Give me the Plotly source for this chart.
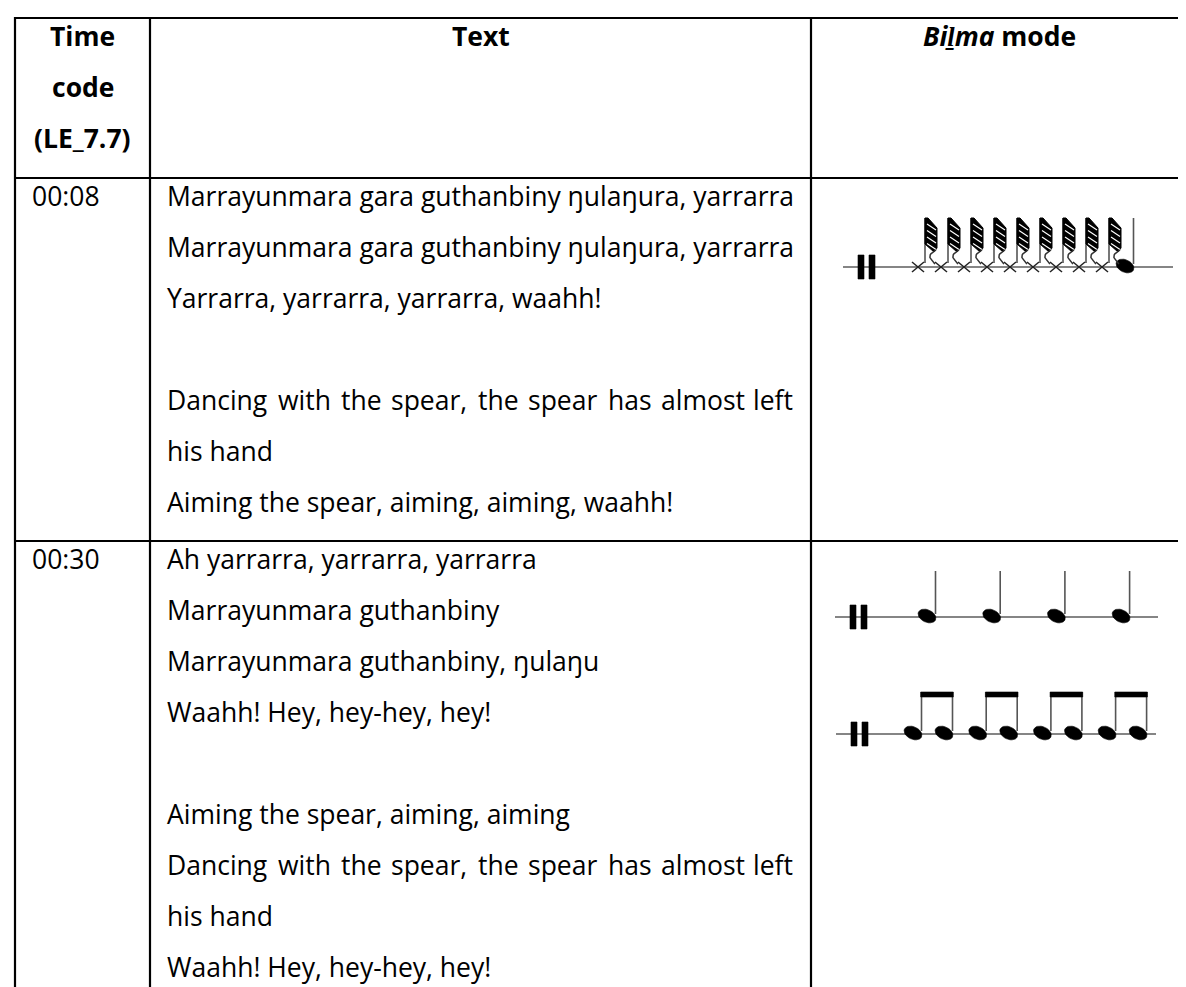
import math
import plotly.graph_objects as go

# ------------------------------------------------------------------ data
header_timecode = ["Time", "code", "(LE_7.7)"]
header_text = ["Text"]
header_mode = ["<i>Biḻma</i> mode"]

time_codes = ["00:08", "00:30"]

lyrics_row1 = [
    "Marrayunmara gara guthanbiny ŋulaŋura, yarrarra",
    "Marrayunmara gara guthanbiny ŋulaŋura, yarrarra",
    "Yarrarra, yarrarra, yarrarra, waahh!",
    "",
    "Dancing with the spear, the spear has almost left",
    "his hand",
    "Aiming the spear, aiming, aiming, waahh!",
]
lyrics_row2 = [
    "Ah yarrarra, yarrarra, yarrarra",
    "Marrayunmara guthanbiny",
    "Marrayunmara guthanbiny, ŋulaŋu",
    "Waahh! Hey, hey-hey, hey!",
    "",
    "Aiming the spear, aiming, aiming",
    "Dancing with the spear, the spear has almost left",
    "his hand",
    "Waahh! Hey, hey-hey, hey!",
]
justified_lines = ["Dancing with the spear, the spear has almost left"]

# rhythm patterns of the bilma (clapstick) notation
bilma_row1 = ["cross"] * 9 + ["quarter"]
bilma_row2a = ["quarter"] * 4
bilma_row2b = ["eighth"] * 8

# ------------------------------------------------------------------ layout
W, H = 1186, 987
COLS = [7, 142, 803, 1179]
ROWS = [10, 170, 533]
LINE_H = 51
FIRST_OFF = 18
FONT = "Open Sans"
FS = 26.5
TEXT_X = COLS[1] + 15
TIME_X = COLS[0] + 15
JUSTIFY_RIGHT = COLS[2] - 16

# approximate Open Sans advance widths (em)
CW = {' ': .260, ',': .243, '.': .266, '-': .322, '!': .267, 'A': .633, 'D': .695,
      'H': .722, 'M': .886, 'W': .94, 'Y': .564, 'a': .556, 'b': .613, 'c': .476,
      'd': .613, 'e': .561, 'f': .339, 'g': .548, 'h': .614, 'i': .253, 'k': .525,
      'l': .253, 'm': .930, 'n': .614, 'o': .604, 'p': .613, 'r': .408, 's': .477,
      't': .353, 'u': .614, 'w': .788, 'y': .501, 'ŋ': .614}
WIDTH_CORR = 1.02


def text_w(s):
    return sum(CW.get(c, .55) for c in s) * FS * WIDTH_CORR


fig = go.Figure()
annotations = []


def add_text(x, y, s, anchor="left", bold=False):
    annotations.append(dict(
        x=x, y=y, xref="x", yref="y", text=(f"<b>{s}</b>" if bold else s),
        showarrow=False, xanchor=anchor, yanchor="middle",
        font=dict(family=FONT, size=FS, color="#000000")))


def add_lines(xs, ys, color="#000000", width=2.0):
    fig.add_trace(go.Scatter(x=xs, y=ys, mode="lines", hoverinfo="skip",
                             line=dict(color=color, width=width)))


def add_fill(xs, ys, color="#000000", lw=0.6):
    fig.add_trace(go.Scatter(x=xs, y=ys, mode="lines", fill="toself",
                             fillcolor=color, hoverinfo="skip",
                             line=dict(color=color, width=lw)))


# ---- table grid
gx, gy = [], []
for r in ROWS:
    gx += [COLS[0] - 1, COLS[-1] + 1, None]
    gy += [r, r, None]
for c in COLS:
    gx += [c, c, None]
    gy += [ROWS[0] - 1, H + 20, None]
add_lines(gx, gy, "#000000", 2.2)

# ---- header texts
for i, s in enumerate(header_timecode):
    add_text((COLS[0] + COLS[1]) / 2, ROWS[0] + FIRST_OFF + i * LINE_H, s, "center", True)
add_text((COLS[1] + COLS[2]) / 2, ROWS[0] + FIRST_OFF, header_text[0], "center", True)
add_text((COLS[2] + COLS[3]) / 2, ROWS[0] + FIRST_OFF, header_mode[0], "center", True)

# ---- body texts
for r, (tc, lines) in enumerate(zip(time_codes, [lyrics_row1, lyrics_row2])):
    top = ROWS[r + 1]
    add_text(TIME_X, top + FIRST_OFF, tc)
    for i, s in enumerate(lines):
        if not s:
            continue
        y = top + FIRST_OFF + i * LINE_H
        if s in justified_lines:
            words = s.split(" ")
            ws = [text_w(w) for w in words]
            gap = (JUSTIFY_RIGHT - TEXT_X - sum(ws)) / (len(words) - 1)
            x = TEXT_X
            for k, w in enumerate(words):
                if k == len(words) - 1:
                    add_text(JUSTIFY_RIGHT, y, w, "right")
                else:
                    add_text(x, y, w)
                x += ws[k] + gap
        else:
            add_text(TEXT_X, y, s)


# ---- music notation
def ellipse(cx, cy, rx=9.4, ry=6.2, ang=-25, n=28):
    a = math.radians(ang)
    xs, ys = [], []
    for k in range(n + 1):
        t = 2 * math.pi * k / n
        ex, ey = rx * math.cos(t), ry * math.sin(t)
        xs.append(cx + ex * math.cos(a) - ey * math.sin(a))
        ys.append(cy - (ex * math.sin(a) + ey * math.cos(a)))
    return xs, ys


def bezier(p0, p1, p2, n=10):
    pts = []
    for k in range(n + 1):
        t = k / n
        pts.append(((1 - t) ** 2 * p0[0] + 2 * (1 - t) * t * p1[0] + t * t * p2[0],
                    (1 - t) ** 2 * p0[1] + 2 * (1 - t) * t * p1[1] + t * t * p2[1]))
    return pts


staves = [
    dict(pattern=bilma_row1, y=259, x0=835, x1=1165, first=910, dx=23.0, pair=None, top=210),
    dict(pattern=bilma_row2a, y=609, x0=827, x1=1150, first=919, dx=64.7, pair=None, top=563),
    dict(pattern=bilma_row2b, y=726, x0=828, x1=1148, first=905, dx=64.7, pair=31.0, top=684),
]

staff_x, staff_y = [], []
bar_x, bar_y = [], []
head_x, head_y = [], []
stem_x, stem_y = [], []
cross_x, cross_y = [], []
flag_x, flag_y = [], []
stripe_x, stripe_y = [], []
tail_x, tail_y = [], []
beam_x, beam_y = [], []

for st in staves:
    y0 = st["y"]
    staff_x += [st["x0"], st["x1"], None]
    staff_y += [y0, y0, None]
    for bx in (st["x0"] + 15, st["x0"] + 26):
        bar_x += [bx, bx + 6, bx + 6, bx, bx, None]
        bar_y += [y0 - 12, y0 - 12, y0 + 12, y0 + 12, y0 - 12, None]
    positions = []
    for i, kind in enumerate(st["pattern"]):
        if st["pair"] is None:
            x = st["first"] + i * st["dx"]
        else:
            x = st["first"] + (i // 2) * st["dx"] + (i % 2) * st["pair"]
        positions.append(x)
        top = st["top"]
        if kind == "cross":
            cross_x += [x - 6, x + 6, None, x - 6, x + 6, None]
            cross_y += [y0 - 5, y0 + 5, None, y0 + 5, y0 - 5, None]
            xs = x + 7
            stem_x += [xs, xs, None]
            stem_y += [y0 - 4, top, None]
            flag_x += [xs, xs + 3, xs + 12, xs + 12, xs + 9, xs, xs, None]
            flag_y += [top, top, top + 10, top + 30, top + 34, top + 26, top, None]
            for k in range(4):
                stripe_x += [xs + 2, xs + 11, None]
                stripe_y += [top + 6 + 6.5 * k, top + 12 + 6.5 * k, None]
            pts = bezier((xs + 11, top + 32), (xs + 2, top + 37), (xs + 6, top + 41)) + \
                bezier((xs + 6, top + 41), (xs + 11, top + 45), (xs + 9, y0 - 3))[1:]
            tail_x += [p[0] for p in pts] + [None]
            tail_y += [p[1] for p in pts] + [None]
        else:
            ex, ey = ellipse(x, y0 - 1)
            head_x += ex + [None]
            head_y += ey + [None]
            xs = x + 8.5
            stem_x += [xs, xs, None]
            stem_y += [y0 - 3, top, None]
    if st["pair"] is not None:
        for j in range(0, len(positions), 2):
            a, b = positions[j] + 8.5, positions[j + 1] + 8.5
            beam_x += [a - 0.8, b + 0.8, b + 0.8, a - 0.8, a - 0.8, None]
            beam_y += [st["top"], st["top"], st["top"] + 5, st["top"] + 5, st["top"], None]

add_lines(staff_x, staff_y, "#858585", 1.8)
add_lines(stem_x, stem_y, "#555555", 1.6)
add_fill(bar_x, bar_y)
add_fill(head_x, head_y)
add_fill(beam_x, beam_y)
add_fill(flag_x, flag_y, "#000000", 1.0)
add_lines(stripe_x, stripe_y, "#ffffff", 1.1)
add_lines(tail_x, tail_y, "#333333", 1.5)
add_lines(cross_x, cross_y, "#222222", 1.5)

fig.update_layout(
    width=W, height=H, margin=dict(l=0, r=0, t=0, b=0),
    paper_bgcolor="#ffffff", plot_bgcolor="#ffffff", showlegend=False,
    xaxis=dict(range=[0, W], visible=False, fixedrange=True),
    yaxis=dict(range=[H, 0], visible=False, fixedrange=True),
    annotations=annotations,
)

fig.write_html("out.html")
